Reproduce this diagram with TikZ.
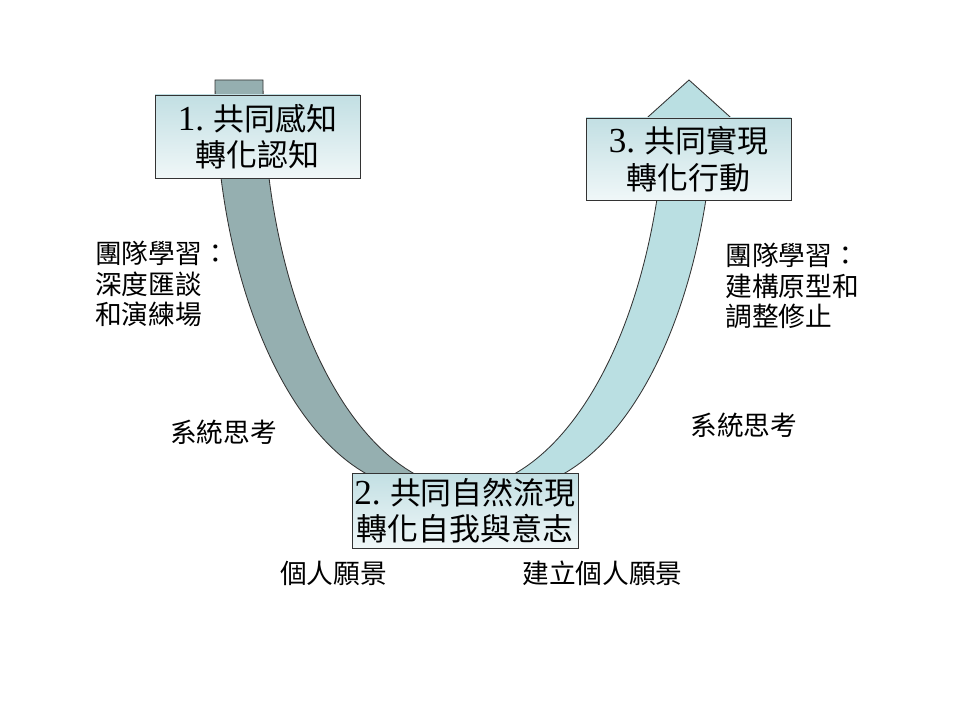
\documentclass[tikz,border=0pt]{standalone}
\usepackage{fontspec}
\setmainfont{Liberation Serif}
\newfontfamily\cjk{Noto Sans CJK TC}
\newcommand\stagenum[1]{{\rmfamily\fontsize{25}{26}\selectfont #1}}
\definecolor{banddark}{HTML}{95AFB0}
\definecolor{bandlight}{HTML}{BADFE2}
\definecolor{boxtop}{HTML}{C2DFE3}

\begin{document}
\begin{tikzpicture}[
  stagebox/.style={draw=black!80, line width=0.6pt, top color=boxtop, bottom color=boxtop!25,
    inner sep=0pt, align=center, font=\cjk\fontsize{22}{26}\selectfont},
  note/.style={align=left, inner sep=0pt, font=\cjk\fontsize{19}{21.5}\selectfont},
  band/.style={draw=black!80, line width=0.6pt}
]
  \useasboundingbox (0,0) rectangle (24,18);

  \path[band, fill=banddark] (5.375,16)
    arc[start angle=180, end angle=270, x radius=5.25, y radius=10.25] -- (11.825,5.75)
    arc[start angle=270, end angle=180, x radius=5.25, y radius=10.25] -- cycle;
  \path[band, fill=bandlight] (11.4,5.75)
    arc[start angle=270, end angle=353.7, x radius=5.25, y radius=10.25]
    -- (15.975,14.875) -- (17.225,16) -- (18.475,14.875) -- (17.843,14.875)
    arc[start angle=353.7, end angle=270, x radius=5.25, y radius=10.25] -- cycle;

  \node[stagebox, minimum width=5.125cm, minimum height=2.075cm] (sense) at (6.4375,14.5875)
    {\stagenum{1.} 共同感知\\轉化認知};
  \node[stagebox, minimum width=5.125cm, minimum height=2.05cm] (act) at (17.2125,14.025)
    {\stagenum{3.} 共同實現\\轉化行動};
  \node[stagebox, minimum width=5.65cm, minimum height=1.875cm] (flow) at (11.625,5.2375)
    {\stagenum{2.} 共同自然流現\\轉化自我與意志};

  \node[note, anchor=west] (teamL) at (2.375,10.9) {團隊學習：\\深度匯談\\和演練場};
  \node[note, anchor=west] (teamR) at (18.125,10.85) {團隊學習：\\建構原型和\\調整修止};
  \node[note, anchor=west] (sysL) at (4.25,7.2) {系統思考};
  \node[note, anchor=west] (sysR) at (17.25,7.375) {系統思考};
  \node[note, anchor=west] (visionL) at (7.0,3.675) {個人願景};
  \node[note, anchor=west] (visionR) at (13.05,3.675) {建立個人願景};
\end{tikzpicture}
\end{document}
